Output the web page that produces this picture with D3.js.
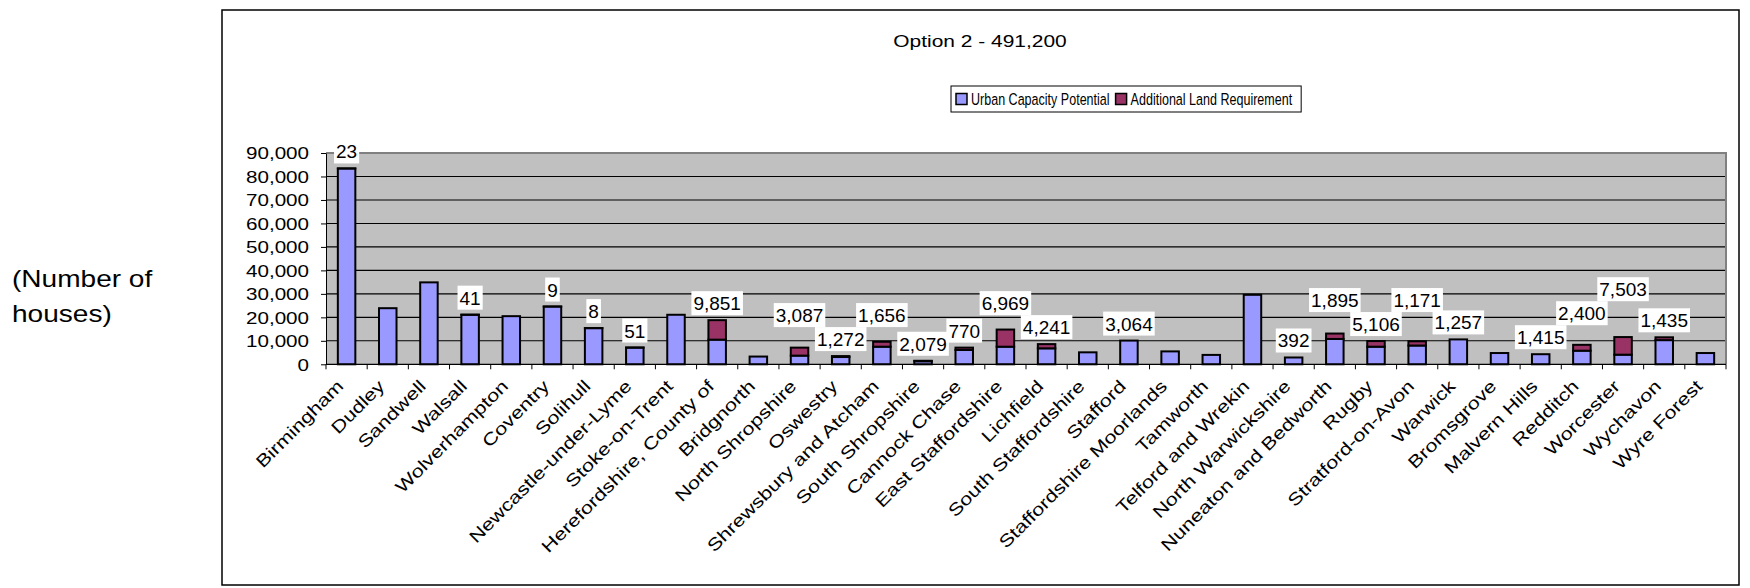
<!DOCTYPE html>
<html><head><meta charset="utf-8">
<script src="https://cdn.jsdelivr.net/npm/d3@7"></script>
<style>
body{margin:0;background:#fff}
svg{display:block}
text{font-family:"Liberation Sans",Arial,Helvetica,sans-serif;fill:#000}
</style>
</head><body>
<svg id="chart" width="1750" height="588"></svg>
<script>
const chartTitle = "Option 2 - 491,200";
const seriesNames = ["Urban Capacity Potential", "Additional Land Requirement"];
const yTitleLines = ["(Number of", "houses)"];
const categories = ["Birmingham","Dudley","Sandwell","Walsall","Wolverhampton","Coventry","Solihull","Newcastle-under-Lyme","Stoke-on-Trent","Herefordshire, County of","Bridgnorth","North Shropshire","Oswestry","Shrewsbury and Atcham","South Shropshire","Cannock Chase","East Staffordshire","Lichfield","South Staffordshire","Stafford","Staffordshire Moorlands","Tamworth","Telford and Wrekin","North Warwickshire","Nuneaton and Bedworth","Rugby","Stratford-on-Avon","Warwick","Bromsgrove","Malvern Hills","Redditch","Worcester","Wychavon","Wyre Forest"];
const urbanCapacity = [83400,23900,34900,21100,20500,24600,15400,7100,21100,10500,3300,3700,3100,7500,1300,6100,7500,6800,5100,10100,5500,4000,29600,2900,10800,7500,8000,10600,4800,4300,5800,4100,10300,4800];
const additionalLand = [23,0,0,41,0,9,8,51,0,8300,0,3400,400,2100,200,1000,7300,1800,0,0,0,0,0,0,2300,2400,1800,0,0,0,2500,7500,1200,0];
const dataLabels = ["23","","","41","","9","8","51","","9,851","","3,087","1,272","1,656","2,079","770","6,969","4,241","","3,064","","","","392","1,895","5,106","1,171","1,257","","1,415","2,400","7,503","1,435",""];
const yTickValues = [0,10000,20000,30000,40000,50000,60000,70000,80000,90000];

const colors = {urban:"#9999FF", additional:"#993366", wall:"#C0C0C0"};
const svg = d3.select("#chart");

// outer frame
svg.append("rect").attr("x",222).attr("y",10).attr("width",1517).attr("height",575)
  .attr("fill","#fff").attr("stroke","#000").attr("stroke-width",1.5);

const plot = {left:326, right:1726, top:153, bottom:364.3};
const x = d3.scaleBand().domain(categories).range([plot.left, plot.right])
  .paddingInner(0.575).paddingOuter(0.2875);
const y = d3.scaleLinear().domain([0, d3.max(yTickValues)]).range([plot.bottom, plot.top]);

const table = categories.map((c,i)=>({category:c, urban:urbanCapacity[i], additional:additionalLand[i], label:dataLabels[i]}));
const stacked = d3.stack().keys(["urban","additional"])(table);

// plot background (wall)
svg.append("rect").attr("x",plot.left).attr("y",plot.top)
  .attr("width",plot.right-plot.left).attr("height",plot.bottom-plot.top)
  .attr("fill",colors.wall);

// gridlines
svg.append("g").selectAll("line").data(yTickValues.filter(v=>v>0 && v<d3.max(yTickValues)))
  .join("line").attr("x1",plot.left).attr("x2",plot.right)
  .attr("y1",d=>y(d)).attr("y2",d=>y(d)).attr("stroke","#000").attr("stroke-width",1.1);
svg.append("path").attr("d",`M${plot.left},${y(d3.max(yTickValues))}H${plot.right}V${plot.bottom}`)
  .attr("fill","none").attr("stroke","#808080").attr("stroke-width",2);

// bars
const gBars = svg.append("g");
stacked.forEach(series=>{
  gBars.append("g").attr("fill", colors[series.key])
    .selectAll("rect").data(series.filter(d=>d[1]-d[0]>0)).join("rect")
    .attr("x", d=>x(d.data.category))
    .attr("width", x.bandwidth())
    .attr("y", d=>y(d[1]))
    .attr("height", d=>y(d[0])-y(d[1]))
    .attr("stroke","#000").attr("stroke-width",2);
});

// y axis
const yAxis = svg.append("g").attr("transform",`translate(${plot.left},0)`)
  .call(d3.axisLeft(y).tickValues(yTickValues).tickSize(5).tickSizeOuter(0).tickFormat(d3.format(",")));
yAxis.select(".domain").attr("stroke","#000");
yAxis.selectAll(".tick line").attr("stroke","#000");
const tickStretch = 1.25;
yAxis.selectAll(".tick text")
  .attr("font-family",'"Liberation Sans",Arial,sans-serif')
  .attr("font-size",16.5).attr("fill","#000")
  .attr("x", -17/tickStretch).attr("dy","0.36em")
  .attr("transform",`scale(${tickStretch},1)`);

// x axis
const xAxis = svg.append("g");
xAxis.append("line").attr("x1",plot.left).attr("x2",plot.right)
  .attr("y1",y(0)).attr("y2",y(0)).attr("stroke","#000").attr("stroke-width",1.2);
const boundaries = d3.range(categories.length+1).map(i=>plot.left + i*x.step());
xAxis.selectAll("line.tk").data(boundaries).join("line").attr("class","tk")
  .attr("x1",d=>d).attr("x2",d=>d).attr("y1",y(0)).attr("y2",y(0)+5)
  .attr("stroke","#000").attr("stroke-width",1);
xAxis.selectAll("text").data(categories).join("text")
  .attr("text-anchor","end")
  .attr("font-size",17.3)
  .attr("transform",d=>`translate(${x(d)+x.bandwidth()/2-2},${y(0)+23}) rotate(-45) scale(1.25,1)`)
  .text(d=>d);

// data labels: sit just above the bar; when two neighbours collide, lift one of them
const gLab = svg.append("g");
const totals = stacked[stacked.length-1];
const boxH = 24, gap = 5;
const items = [];
totals.forEach(d=>{
  if(!d.data.label) return;
  const cx = x(d.data.category)+x.bandwidth()/2;
  const g = gLab.append("g");
  const t = g.append("text").attr("text-anchor","middle").attr("font-size",19).text(d.data.label);
  const w = t.node().getComputedTextLength() + 4;
  const bottom = y(d[1]) - gap;
  items.push({g, t, cx, w, x1:cx-w/2, x2:cx+w/2, bottom, top:bottom-boxH, total:d[1], raised:false});
});
function collide(a,b){
  const h = Math.min(a.x2,b.x2) - Math.max(a.x1,b.x1);
  const v = Math.min(a.bottom,b.bottom) - Math.max(a.top,b.top);
  return h>4 && v>3;
}
const placed = [];
items.forEach(cur=>{
  const prev = placed[placed.length-1];
  if(prev && collide(cur,prev)){
    let liftedPrev = false;
    if(prev.total > cur.total && !prev.raised){
      const cand = {x1:prev.x1, x2:prev.x2, bottom:cur.top, top:cur.top-boxH};
      if(!placed.slice(0,-1).some(p=>collide(cand,p))){
        prev.bottom = cand.bottom; prev.top = cand.top; prev.raised = true; liftedPrev = true;
      }
    }
    if(!liftedPrev){ cur.bottom = prev.top; cur.top = cur.bottom-boxH; cur.raised = true; }
  }
  placed.push(cur);
});
placed.forEach(it=>{
  it.t.attr("x",it.cx).attr("y",it.bottom-5);
  it.g.insert("rect","text").attr("x",it.x1).attr("y",it.top).attr("width",it.w).attr("height",boxH)
    .attr("fill","#fff");
});

// title
svg.append("text").attr("text-anchor","middle").attr("font-size",16.5)
  .attr("transform",`translate(980,47) scale(1.27,1)`).text(chartTitle);

// legend
const lg = svg.append("g");
const legBox = {x:951, y:86, h:26};
const legItems = [{name:seriesNames[0], color:colors.urban},{name:seriesNames[1], color:colors.additional}];
const legStretch = 0.76;
let cursor = legBox.x + 5;
legItems.forEach(it=>{
  lg.append("rect").attr("x",cursor).attr("y",legBox.y+legBox.h/2-5.5).attr("width",11).attr("height",11)
    .attr("fill",it.color).attr("stroke","#000").attr("stroke-width",1.5);
  cursor += 15;
  const t = lg.append("text").attr("font-size",16.5)
    .attr("transform",`translate(${cursor},${legBox.y+legBox.h/2+6}) scale(${legStretch},1)`).text(it.name);
  cursor += t.node().getComputedTextLength()*legStretch + 6;
});
lg.insert("rect",":first-child").attr("x",legBox.x).attr("y",legBox.y)
  .attr("width",cursor - legBox.x + 3).attr("height",legBox.h)
  .attr("fill","#fff").attr("stroke","#000").attr("stroke-width",1);

// y title
yTitleLines.forEach((line,i)=>{
  svg.append("text").attr("font-size",23)
    .attr("transform",`translate(12,${287+i*35}) scale(1.22,1)`).text(line);
});
</script>
</body></html>
